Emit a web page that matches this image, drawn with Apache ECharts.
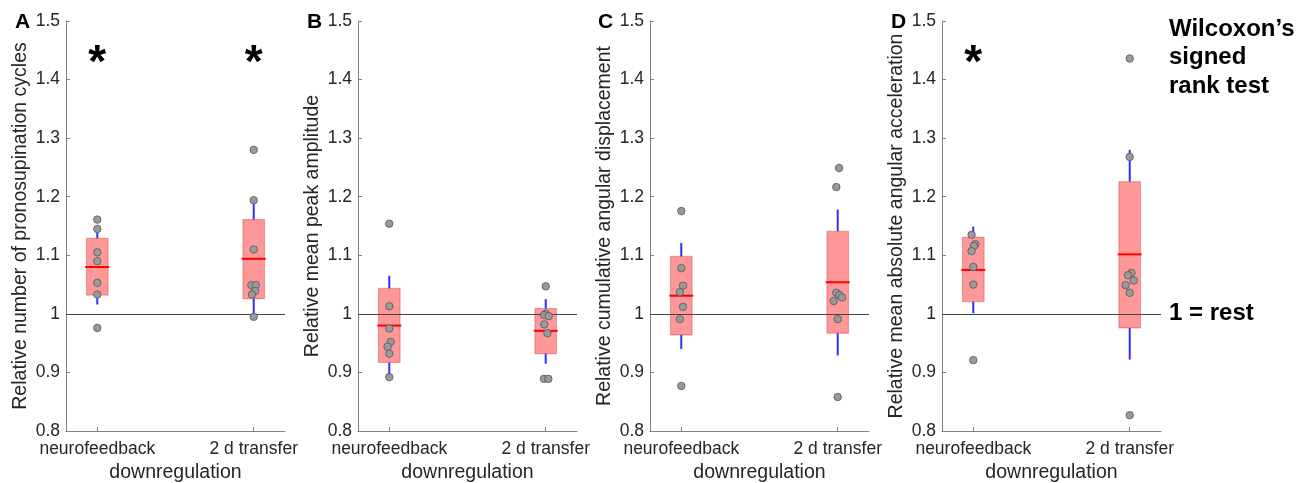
<!DOCTYPE html>
<html>
<head>
<meta charset="utf-8">
<script src="https://cdn.jsdelivr.net/npm/echarts@6/dist/echarts.min.js"></script>
<style>
  html, body { margin: 0; padding: 0; background: #ffffff; }
  #chart { width: 1311px; height: 483px; }
</style>
</head>
<body>
<div id="chart"></div>
<script>
// ---------------- data ----------------
const categories = ['neurofeedback', '2 d transfer'];
const xTitle = 'downregulation';
const yTicks = [0.8, 0.9, 1.0, 1.1, 1.2, 1.3, 1.4, 1.5];
const yTickLabels = ['0.8', '0.9', '1', '1.1', '1.2', '1.3', '1.4', '1.5'];
const panelLetters = ['A', 'B', 'C', 'D'];
const yTitles = [
  'Relative number of pronosupination cycles',
  'Relative mean peak amplitude',
  'Relative cumulative angular displacement',
  'Relative mean absolute angular acceleration'
];
const restValue = 1;
const restLabel = '1 = rest';
const testLabel = ['Wilcoxon\u2019s', 'signed', 'rank test'];
const sigMarkLevel = 1.44;

// box stats per category: [whisker low, q1, median, q3, whisker high]
const boxA = [[1.016, 1.032, 1.080, 1.129, 1.145], [1.001, 1.026, 1.094, 1.161, 1.194]];
const boxB = [[0.890, 0.917, 0.980, 1.0435, 1.065], [0.915, 0.932, 0.971, 1.009, 1.025]];
const boxC = [[0.940, 0.964, 1.031, 1.098, 1.121], [0.929, 0.967, 1.054, 1.141, 1.178]];
const boxD = [[1.001, 1.021, 1.075, 1.1306, 1.149], [0.922, 0.976, 1.1016, 1.2256, 1.280]];

// individual subjects (values) and their horizontal jitter
const ptsA_nf = [1.161, 1.145, 1.105, 1.090, 1.053, 1.033, 0.976];
const jitA_nf = [0, 0, 0, 0, 0, 0, 0];
const ptsA_tr = [1.280, 1.194, 1.110, 1.049, 1.049, 1.039, 1.033, 0.995];
const jitA_tr = [0, 0, 0, -0.015, 0.013, 0.009, -0.011, 0];

const ptsB_nf = [1.154, 1.013, 0.975, 0.952, 0.944, 0.932, 0.892];
const jitB_nf = [0, 0, 0, 0.009, -0.011, 0, 0];
const ptsB_tr = [1.047, 1.000, 0.998, 0.996, 0.982, 0.967, 0.889, 0.889];
const jitB_tr = [0, 0, -0.011, 0.019, -0.009, 0.011, -0.011, 0.017];

const ptsC_nf = [1.1755, 1.078, 1.048, 1.037, 1.012, 0.991, 0.877];
const jitC_nf = [0, 0, 0.011, -0.009, 0.011, -0.009, 0];
const ptsC_tr = [1.249, 1.2165, 1.036, 1.032, 1.028, 1.022, 0.991, 0.858];
const jitC_tr = [0.009, -0.009, -0.009, 0.011, 0.028, -0.026, 0, 0];

const ptsD_nf = [1.135, 1.119, 1.116, 1.107, 1.080, 1.050, 0.921];
const jitD_nf = [-0.011, 0.013, 0.004, -0.011, 0, 0, 0];
const ptsD_tr = [1.436, 1.268, 1.070, 1.066, 1.057, 1.049, 1.036, 0.827];
const jitD_tr = [0, 0, 0.011, -0.011, 0.026, -0.026, 0, 0];

// significance (Wilcoxon) per category
const sigA = [true, true];
const sigB = [false, false];
const sigC = [false, false];
const sigD = [true, false];

// ---------------- layout / style ----------------
const FONT = '"Liberation Sans", Arial, Helvetica, sans-serif';
const gridLefts = [66, 358, 650, 942];
const letterLefts = [15, 307, 598, 891];
const GRID_TOP = 21, GRID_W = 219, GRID_H = 410;
const BOX_HALF = 0.069;
const AXIS_COLOR = '#808080';
const TEXT_COLOR = '#262626';

const panels = [
  { box: boxA, pts: [ptsA_nf, ptsA_tr], jit: [jitA_nf, jitA_tr], sig: sigA },
  { box: boxB, pts: [ptsB_nf, ptsB_tr], jit: [jitB_nf, jitB_tr], sig: sigB },
  { box: boxC, pts: [ptsC_nf, ptsC_tr], jit: [jitC_nf, jitC_tr], sig: sigC },
  { box: boxD, pts: [ptsD_nf, ptsD_tr], jit: [jitD_nf, jitD_tr], sig: sigD }
];
const catPos = categories.map((c, i) => i + 1);

const grids = [], xAxes = [], yAxes = [], series = [], graphics = [];

function renderBox(params, api) {
  const x = api.value(0);
  const lo = api.coord([x, api.value(1)]);
  const q1 = api.coord([x, api.value(2)]);
  const md = api.coord([x, api.value(3)]);
  const q3 = api.coord([x, api.value(4)]);
  const hi = api.coord([x, api.value(5)]);
  const hw = api.size([BOX_HALF, 0])[0];
  const mw = hw + 1.2;
  const whisk = { stroke: '#2e2eff', lineWidth: 2 };
  return {
    type: 'group',
    children: [
      { type: 'line', shape: { x1: lo[0], y1: lo[1], x2: q1[0], y2: q1[1] }, style: whisk },
      { type: 'line', shape: { x1: q3[0], y1: q3[1], x2: hi[0], y2: hi[1] }, style: whisk },
      { type: 'rect', shape: { x: q3[0] - hw, y: q3[1], width: 2 * hw, height: q1[1] - q3[1] },
        style: { fill: 'rgba(255,0,0,0.4)', stroke: 'rgba(200,40,40,0.35)', lineWidth: 1.2 } },
      { type: 'line', shape: { x1: md[0] - mw, y1: md[1], x2: md[0] + mw, y2: md[1] },
        style: { stroke: '#ff0000', lineWidth: 2 } }
    ]
  };
}

panels.forEach((p, i) => {
  grids.push({ left: gridLefts[i], top: GRID_TOP, width: GRID_W, height: GRID_H,
               containLabel: false, outerBoundsMode: 'none' });
  xAxes.push({
    gridIndex: i, type: 'value', min: 0.8, max: 2.2,
    axisLine: { show: true, onZero: false, lineStyle: { color: AXIS_COLOR, width: 1 } },
    axisTick: { show: true, inside: true, length: 4, customValues: catPos, lineStyle: { color: AXIS_COLOR } },
    axisLabel: {
      customValues: catPos, margin: 9, fontSize: 17.5, fontFamily: FONT, color: TEXT_COLOR,
      formatter: v => categories[Math.round(v) - 1]
    },
    splitLine: { show: false },
    name: xTitle, nameLocation: 'middle', nameGap: 32,
    nameTextStyle: { fontSize: 19.5, fontFamily: FONT, color: TEXT_COLOR }
  });
  yAxes.push({
    gridIndex: i, type: 'value', min: 0.8, max: 1.5, interval: 0.1,
    axisLine: { show: true, onZero: false, lineStyle: { color: AXIS_COLOR, width: 1 } },
    axisTick: { show: true, inside: true, length: 4, customValues: yTicks, lineStyle: { color: AXIS_COLOR } },
    axisLabel: {
      customValues: yTicks, margin: 6, fontSize: 17.5, fontFamily: FONT, color: TEXT_COLOR,
      formatter: v => yTickLabels[yTicks.findIndex(t => Math.abs(t - v) < 1e-6)]
    },
    splitLine: { show: false },
    name: yTitles[i], nameLocation: 'middle', nameGap: 35, nameRotate: 90,
    nameTextStyle: { fontSize: 19.5, fontFamily: FONT, color: TEXT_COLOR }
  });

  series.push({
    type: 'custom', xAxisIndex: i, yAxisIndex: i, z: 2, silent: true,
    renderItem: renderBox,
    encode: { x: 0, y: [1, 2, 3, 4, 5] },
    data: p.box.map((b, k) => [catPos[k]].concat(b)),
    markLine: {
      silent: true, symbol: 'none', animation: false,
      lineStyle: { color: '#444444', width: 1.2, type: 'solid' },
      label: {
        show: i === 3, position: 'end', distance: 8, formatter: restLabel,
        fontSize: 24, fontWeight: 'bold', fontFamily: FONT, color: '#000'
      },
      emphasis: { disabled: true },
      data: [{ yAxis: restValue }]
    }
  });

  const pts = [];
  p.pts.forEach((arr, k) => arr.forEach((v, j) => pts.push([catPos[k] + p.jit[k][j], v])));
  series.push({
    type: 'scatter', xAxisIndex: i, yAxisIndex: i, z: 5, silent: true,
    symbol: 'circle', symbolSize: 7.5,
    itemStyle: { color: '#9a9a9a', borderColor: '#555555', borderWidth: 0.8, opacity: 1 },
    data: pts
  });

  const sigData = [];
  p.sig.forEach((s, k) => { if (s) sigData.push([catPos[k], sigMarkLevel]); });
  series.push({
    type: 'scatter', xAxisIndex: i, yAxisIndex: i, z: 6, silent: true,
    symbolSize: 1, itemStyle: { color: 'rgba(0,0,0,0)' },
    label: {
      show: true, position: 'inside', formatter: '*', offset: [0, 8],
      fontSize: 46, fontWeight: 'bold', fontFamily: FONT, color: '#000', opacity: 1
    },
    data: sigData
  });

  graphics.push({
    type: 'text', left: letterLefts[i], top: 12,
    style: { text: panelLetters[i], fontSize: 21, fontWeight: 'bold', fontFamily: FONT, fill: '#000' }
  });
});

const testLineCenters = [29, 57.5, 86];
testLabel.forEach((t, k) => {
  graphics.push({
    type: 'text', x: 1169, y: testLineCenters[k],
    style: { text: t, fontSize: 24, fontWeight: 'bold', fontFamily: FONT, fill: '#000',
             textVerticalAlign: 'middle', verticalAlign: 'middle' }
  });
});

const chart = echarts.init(document.getElementById('chart'), null, { renderer: 'canvas' });
chart.setOption({
  animation: false,
  backgroundColor: '#ffffff',
  grid: grids, xAxis: xAxes, yAxis: yAxes, series: series, graphic: graphics
});
</script>
</body>
</html>
